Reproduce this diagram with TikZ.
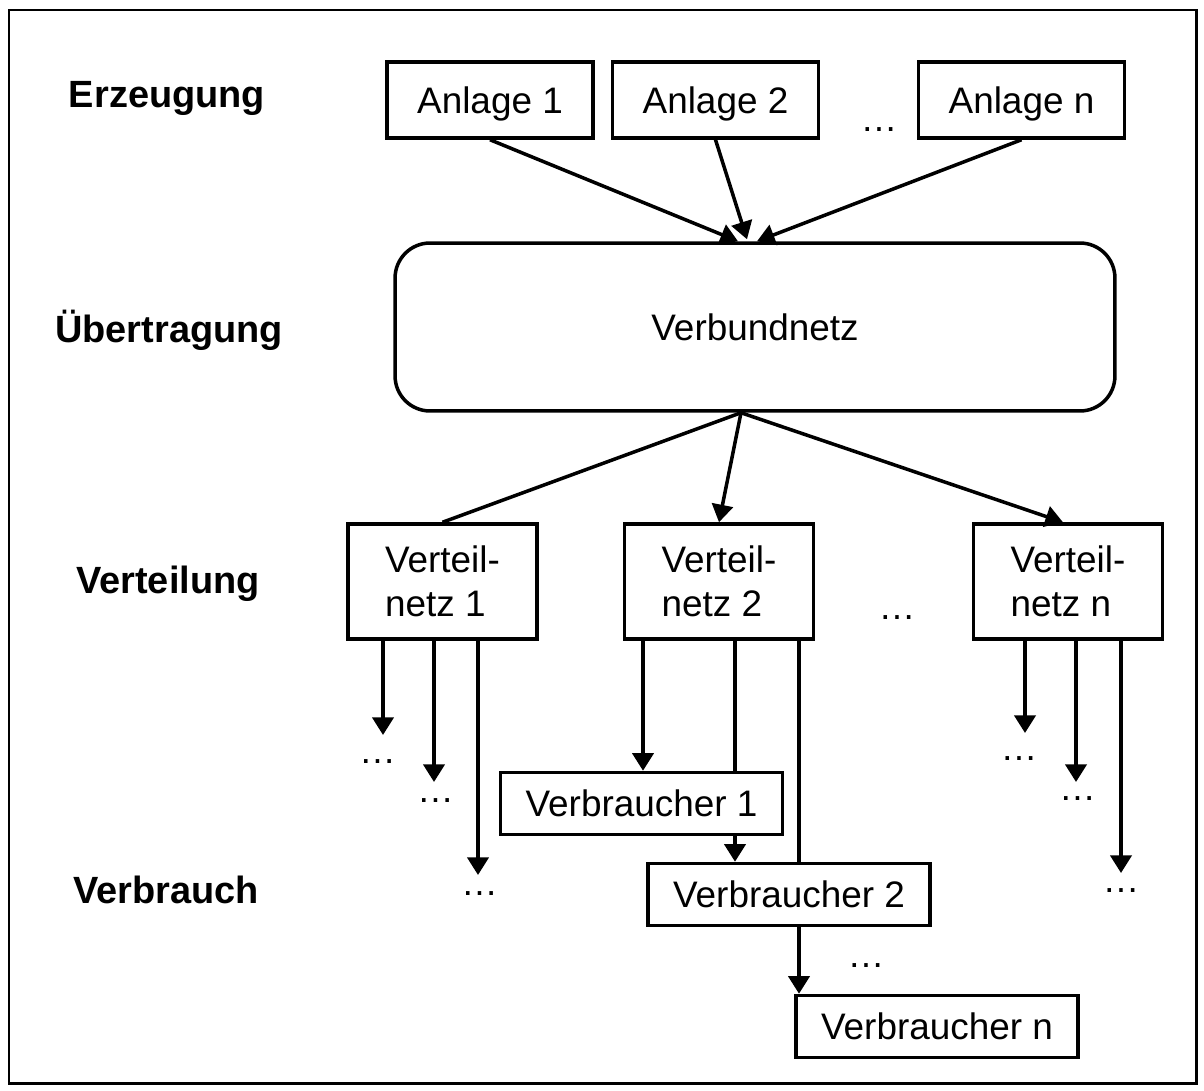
\documentclass[tikz,border=0pt]{standalone}
\usepackage{fontspec}
\setmainfont{Liberation Sans}
\usetikzlibrary{calc,arrows.meta}

\begin{document}
\begin{tikzpicture}
   [x={(0.02cm,0cm)},y={(0cm,-0.02cm)},line width=2pt,
   every node/.style={inner sep=0pt,font=\fontsize{21}{25}\selectfont},
   box/.style={draw,line width=2pt},
   anl/.style={box,minimum width=4.12cm,minimum height=1.52cm,text height=15pt,text depth=0pt},
   vtn/.style={box,minimum width=3.78cm,minimum height=2.3cm,align=left},
   vbr/.style={box,minimum width=5.64cm,minimum height=1.24cm},
   ebene/.style={anchor=base,font=\fontsize{21.6}{26}\selectfont\bfseries},
   pkt/.style={anchor=base},
   arr/.style={-{Triangle[width=12pt,length=10pt]}}]

   \useasboundingbox (0,0) rectangle (1204,1091);
   \draw[line width=1.7pt] (9,10) rectangle (1196,1083);

   \node[ebene] (lerz) at (167,108) {Erzeugung};
   \node[ebene] (lueb) at (169,342) {Übertragung};
   \node[ebene] (lvtl) at (168,593) {Verteilung};
   \node[ebene] (lvbr) at (166,903) {Verbrauch};

   \node[anl] (a1) at (490,100)   {Anlage 1};
   \node[anl] (a2) at (715.5,100) {Anlage 2};
   \node[anl] (an) at (1021.5,100) {Anlage n};
   \node[pkt] (pa) at (879,132) {…};

   \node[box,minimum width=14.4cm,minimum height=3.36cm,rounded corners=0.7cm]
      (vb) at (755,327) {Verbundnetz};

   \node[vtn] (v1) at (442.5,581.5) {Verteil-\\netz 1};
   \node[vtn] (v2) at (719,581.5)   {Verteil-\\netz 2};
   \node[vtn] (vn) at (1068,581.5)  {Verteil-\\netz n};
   \node[pkt] (pv) at (897,619) {…};

   \node[vbr] (k1) at (641.5,803.5) {Verbraucher 1};
   \node[vbr] (k2) at (789,894.5)   {Verbraucher 2};
   \node[vbr] (kn) at (937,1026.5)  {Verbraucher n};
   \node[pkt] (pk) at (866,967) {…};

   \draw[arr] (a1.south) -- ($(vb.north)+(-17,0)$);
   \draw[arr] (a2.south) -- ($(vb.north)+(-8,-2)$);
   \draw[arr] (an.south) -- ($(vb.north)+(2,0)$);

   \coordinate (vbo) at ($(vb.south)+(-14,0)$);
   \draw      (vbo) -- (v1.north);
   \draw[arr] (vbo) -- (v2.north);
   \draw[arr] (vbo) -- ($(vn.north)+(-5,0)$);

   \coordinate (e11) at (383,735);
   \coordinate (e12) at (434,782);
   \coordinate (e13) at (478,875);
   \draw[arr] (v1.south -| e11) -- (e11);
   \draw[arr] (v1.south -| e12) -- (e12);
   \draw[arr] (v1.south -| e13) -- (e13);
   \node[pkt] (p11) at (377.5,763) {…};
   \node[pkt] (p12) at (435.5,802) {…};
   \node[pkt] (p13) at (479.5,895) {…};

   \coordinate (x1) at (643,0);
   \coordinate (x2) at (735,0);
   \coordinate (x3) at (799,0);
   \draw[arr] (v2.south -| x1) -- (k1.north -| x1);
   \draw      (v2.south -| x2) -- (k1.north -| x2);
   \draw[arr] (k1.south -| x2) -- (k2.north -| x2);
   \draw      (v2.south -| x3) -- (k2.north -| x3);
   \draw[arr] (k2.south -| x3) -- (kn.north -| x3);

   \coordinate (en1) at (1025,733);
   \coordinate (en2) at (1076,782);
   \coordinate (en3) at (1121,873);
   \draw[arr] (vn.south -| en1) -- (en1);
   \draw[arr] (vn.south -| en2) -- (en2);
   \draw[arr] (vn.south -| en3) -- (en3);
   \node[pkt] (pn1) at (1019,760) {…};
   \node[pkt] (pn2) at (1077.5,800) {…};
   \node[pkt] (pn3) at (1121,892) {…};
\end{tikzpicture}
\end{document}
